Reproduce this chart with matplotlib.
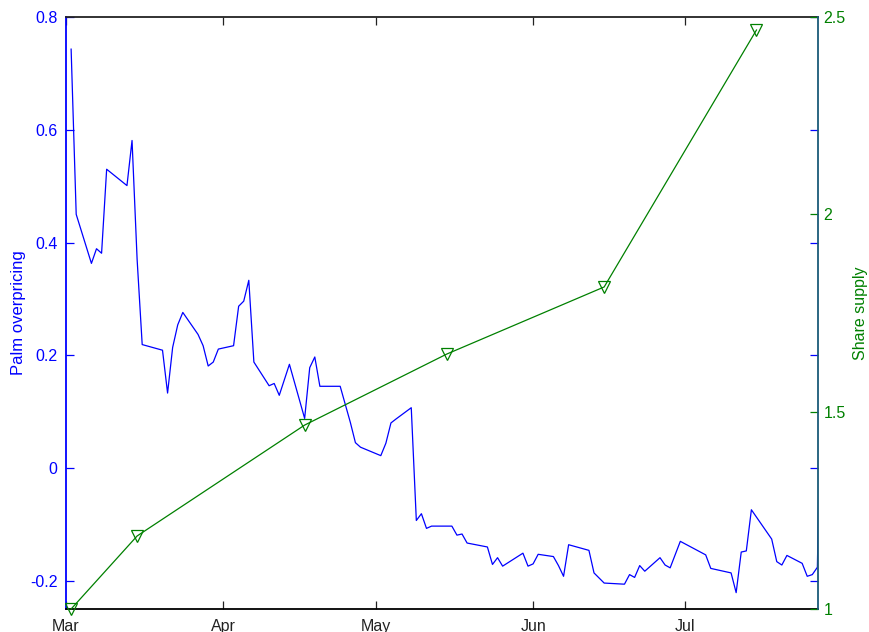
import numpy as np
import matplotlib
matplotlib.use("Agg")
import matplotlib.pyplot as plt
import matplotlib.dates as mdates

plt.rcParams['font.family'] = ['Liberation Sans', 'DejaVu Sans']

# Palm overpricing (daily)
palm_dates = ["2000-03-02", "2000-03-03", "2000-03-06", "2000-03-07", "2000-03-08", "2000-03-09",
              "2000-03-13", "2000-03-14", "2000-03-15", "2000-03-16", "2000-03-20", "2000-03-21",
              "2000-03-22", "2000-03-23", "2000-03-24", "2000-03-27", "2000-03-28", "2000-03-29",
              "2000-03-30", "2000-03-31", "2000-04-03", "2000-04-04", "2000-04-05", "2000-04-06",
              "2000-04-07", "2000-04-10", "2000-04-11", "2000-04-12", "2000-04-14", "2000-04-17",
              "2000-04-18", "2000-04-19", "2000-04-20", "2000-04-24", "2000-04-25", "2000-04-26",
              "2000-04-27", "2000-04-28", "2000-05-02", "2000-05-03", "2000-05-04", "2000-05-05",
              "2000-05-08", "2000-05-09", "2000-05-10", "2000-05-11", "2000-05-12", "2000-05-16",
              "2000-05-17", "2000-05-18", "2000-05-19", "2000-05-23", "2000-05-24", "2000-05-25",
              "2000-05-26", "2000-05-30", "2000-05-31", "2000-06-01", "2000-06-02", "2000-06-05",
              "2000-06-06", "2000-06-07", "2000-06-08", "2000-06-12", "2000-06-13", "2000-06-15",
              "2000-06-19", "2000-06-20", "2000-06-21", "2000-06-22", "2000-06-23", "2000-06-26",
              "2000-06-27", "2000-06-28", "2000-06-30", "2000-07-05", "2000-07-06", "2000-07-10",
              "2000-07-11", "2000-07-12", "2000-07-13", "2000-07-14", "2000-07-18", "2000-07-19",
              "2000-07-20", "2000-07-21", "2000-07-24", "2000-07-25", "2000-07-26", "2000-07-27",
              "2000-07-28"]
palm_over = [0.743, 0.450, 0.363, 0.389, 0.381, 0.530,
             0.501, 0.581, 0.370, 0.219, 0.209, 0.133,
             0.214, 0.254, 0.276, 0.237, 0.217, 0.181,
             0.188, 0.211, 0.217, 0.287, 0.296, 0.333,
             0.188, 0.146, 0.150, 0.129, 0.184, 0.088,
             0.178, 0.197, 0.145, 0.145, 0.113, 0.081,
             0.045, 0.037, 0.022, 0.044, 0.080, 0.087,
             0.107, -0.093, -0.081, -0.107, -0.103, -0.103,
             -0.119, -0.117, -0.133, -0.140, -0.171, -0.159,
             -0.174, -0.151, -0.174, -0.170, -0.153, -0.157,
             -0.173, -0.192, -0.136, -0.146, -0.186, -0.204,
             -0.206, -0.189, -0.194, -0.173, -0.183, -0.159,
             -0.172, -0.177, -0.130, -0.154, -0.178, -0.186,
             -0.221, -0.149, -0.147, -0.074, -0.126, -0.166,
             -0.172, -0.155, -0.169, -0.192, -0.189, -0.176,
             0.33]

# share supply
supply_dates = ["2000-03-02", "2000-03-15", "2000-04-17", "2000-05-15", "2000-06-15", "2000-07-15"]
supply = [1.0, 1.185, 1.466, 1.646, 1.816, 2.467]

month_ticks = ["2000-03-01", "2000-04-01", "2000-05-01", "2000-06-01", "2000-07-01"]
month_labels = ["Mar", "Apr", "May", "Jun", "Jul"]

blue = (0, 0, 1)
green = (0, 0.5, 0)

fig = plt.figure(figsize=(8.69, 6.32), dpi=100)
ax1 = fig.add_axes([0.0760, 0.0364, 0.8653, 0.9367])
ax2 = ax1.twinx()

px = mdates.date2num(np.array(palm_dates, dtype="datetime64[D]"))
sx = mdates.date2num(np.array(supply_dates, dtype="datetime64[D]"))

ax1.plot(px, palm_over, color=blue, lw=0.9)
ax2.plot(sx, supply, color=green, lw=0.9, marker="v", ms=8, mfc="none", mec=green,
         mew=0.9, clip_on=False)

x0 = mdates.date2num(np.datetime64("2000-03-01"))
x1 = mdates.date2num(np.datetime64("2000-07-27")) + 0.12
ax1.set_xlim(x0, x1)
ax1.set_ylim(-0.25, 0.8)
ax2.set_ylim(1, 2.5)

ax1.set_xticks(mdates.date2num(np.array(month_ticks, dtype="datetime64[D]")))
ax1.set_xticklabels(month_labels)
ax1.set_yticks([-0.2, 0, 0.2, 0.4, 0.6, 0.8])
ax1.set_yticklabels(["-0.2", "0", "0.2", "0.4", "0.6", "0.8"])
ax2.set_yticks([1, 1.5, 2, 2.5])
ax2.set_yticklabels(["1", "1.5", "2", "2.5"])

ax1.tick_params(axis="x", direction="in", length=5.5, width=0.9, top=True, colors="#222222",
                labelsize=11.5, pad=7)
ax1.tick_params(axis="y", direction="in", length=5.5, width=0.9, right=True, colors=blue,
                labelsize=11.5, pad=6)
ax2.tick_params(axis="y", direction="in", length=5.5, width=0.9, colors=green,
                labelsize=11.5, pad=4)

ax1.set_ylabel("Palm overpricing", color=blue, fontsize=12, labelpad=3)
ax2.set_ylabel("Share supply", color=green, fontsize=11.5, labelpad=5)

for a in (ax1, ax2):
    for s in a.spines.values():
        s.set_linewidth(1.3)
ax1.spines["left"].set_color(blue)
ax1.spines["top"].set_color("#222222")
ax1.spines["bottom"].set_color("#000000")
ax1.spines["right"].set_visible(False)
ax2.spines["left"].set_visible(False)
ax2.spines["top"].set_visible(False)
ax2.spines["bottom"].set_visible(False)
ax2.spines["right"].set_color("#1a5a78")

fig.savefig("out.png", dpi=100)
